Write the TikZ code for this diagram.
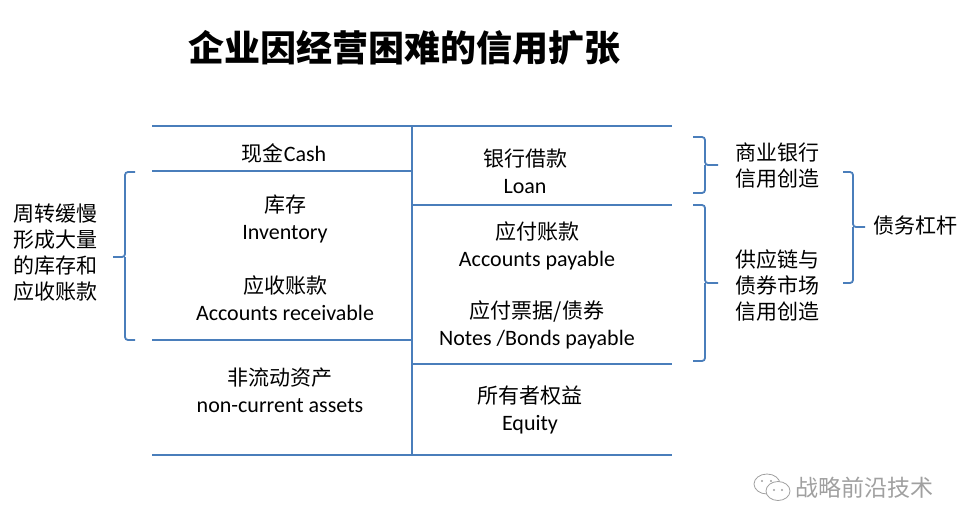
\documentclass[tikz,border=0pt]{standalone}
\usepackage{fontspec}
\setmainfont{Carlito}
\newfontfamily\cjk{Noto Sans CJK SC}
\usetikzlibrary{positioning,calc}
\definecolor{lineblue}{HTML}{4A7EBB}
\definecolor{markgray}{HTML}{A0A0A0}
\newcommand{\zh}[1]{{\cjk\fontsize{21}{27}\selectfont #1}}

\begin{document}
\begin{tikzpicture}[x=1pt, y=-1pt,
    rule/.style={lineblue, line width=1.8pt},
    brace/.style={lineblue, line width=1.8pt, rounded corners=3pt},
    item/.style={font=\fontsize{22}{27}\selectfont, align=center, inner sep=0pt},
    note/.style={font=\cjk\fontsize{21}{26}\selectfont, align=left, inner sep=0pt}]
    \useasboundingbox (0,0) rectangle (972,531);

    % Title
    \node[font=\cjk\bfseries\fontsize{36}{40}\selectfont] (title) at (404,48) {企业因经营困难的信用扩张};

    % Balance sheet
    \draw[rule] (152,126) -- (672,126);
    \draw[rule] (152,455) -- (672,455);
    \draw[rule] (412,126) -- (412,455);
    \draw[rule] (152,171) -- (412,171);
    \draw[rule] (152,340) -- (412,340);
    \draw[rule] (412,205) -- (672,205);
    \draw[rule] (412,364) -- (672,364);

    % Assets
    \node[item] (cash) at (284,153) {\zh{现金}Cash};
    \node[item] (inv) at (285,219) {\zh{库存}\\Inventory};
    \node[item] (recv) at (285,298) {\zh{应收账款}\\Accounts receivable};
    \node[item] (noncur) at (280,390) {\zh{非流动资产}\\non-current assets};

    % Liabilities and equity
    \node[item] (loan) at (525,171) {\zh{银行借款}\\Loan};
    \node[item] (payable) at (537,246) {\zh{应付账款}\\Accounts payable};
    \node[item] (notes) at (537,325) {\zh{应付票据/债券}\\Notes /Bonds payable};
    \node[item] (equity) at (530,410) {\zh{所有者权益}\\Equity};

    % Left brace
    \draw[brace] (135,172) -| (125,257) -- (113,257);
    \draw[brace] (125,257) |- (135,340);
    \node[note] (slow) at (55,253) {周转缓慢\\形成大量\\的库存和\\应收账款};

    % Right braces
    \draw[brace] (693,137) -| (705,165) -- (718,165);
    \draw[brace] (705,165) |- (693,193);
    \node[note] (bank) at (777,166) {商业银行\\信用创造};

    \draw[brace] (693,205) -| (705,283) -- (718,283);
    \draw[brace] (705,283) |- (693,361);
    \node[note] (supply) at (777,285) {供应链与\\债券市场\\信用创造};

    \draw[brace] (843,172) -| (853,227) -- (865,227);
    \draw[brace] (853,227) |- (843,283);
    \node[note, anchor=west] (lever) at (873,226) {债务杠杆};

    % Watermark
    \begin{scope}[markgray, line width=0.8pt]
        \draw (767,484) ellipse (13 and 10);
        \draw[fill=white] (778,491) ellipse (12 and 9.5);
        \fill (762,481) circle (1.2) (771,481) circle (1.2);
        \fill (774,490) circle (1.2) (782,490) circle (1.2);
    \end{scope}
    \node[font=\cjk\fontsize{23}{26}\selectfont, text=markgray, anchor=west, inner sep=0pt] (mark) at (795,488) {战略前沿技术};
\end{tikzpicture}
\end{document}
